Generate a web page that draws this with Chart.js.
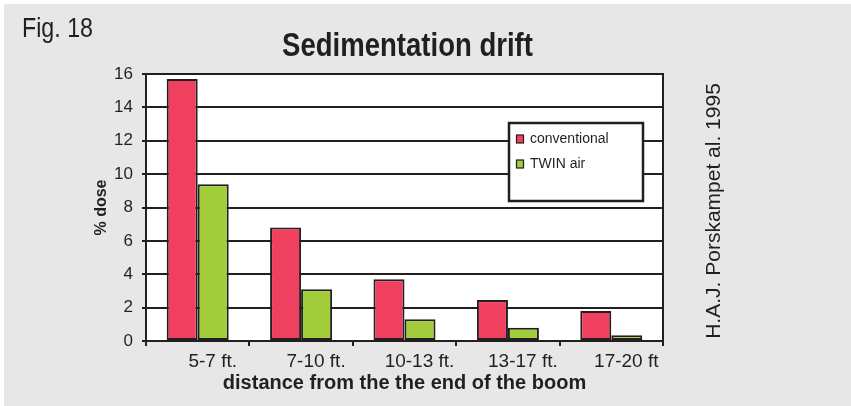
<!DOCTYPE html>
<html lang="en">
<head>
  <meta charset="UTF-8">
  <title>Sedimentation drift</title>
  <style>
    body {
      margin: 0;
      background-color: #fff;
      overflow: hidden;
    }
    canvas {
      display: block;
    }
  </style>
  <script src="https://cdn.jsdelivr.net/npm/chart.js"></script>
</head>
<body>
<canvas id="driftChart" width="851" height="406"></canvas>

<script>
  // Datos
  const categories = ['5-7 ft.', '7-10 ft.', '10-13 ft.', '13-17 ft.', '17-20 ft'];
  const conventional = [15.7, 6.8, 3.7, 2.45, 1.8];
  const twinAir = [9.4, 3.1, 1.3, 0.8, 0.35];
  const yTicks = [0, 2, 4, 6, 8, 10, 12, 14, 16];

  const ink = '#231f20';
  const sans = "'Liberation Sans', Arial, sans-serif";

  // texto estrecho (la fuente condensada no está instalada)
  function narrowText(ctx, text, x, y, font, sx, align) {
    ctx.save();
    ctx.font = font;
    ctx.textAlign = align;
    ctx.textBaseline = 'alphabetic';
    ctx.translate(x, y);
    ctx.scale(sx, 1);
    ctx.fillText(text, 0, 0);
    ctx.restore();
  }

  // Fondo gris, área blanca, marco, leyenda y textos sueltos
  const decor = {
    id: 'decor',
    beforeDraw(chart) {
      const ctx = chart.ctx;
      const a = chart.chartArea;
      ctx.save();
      ctx.fillStyle = '#fff';
      ctx.fillRect(0, 0, chart.width, chart.height);
      ctx.fillStyle = '#e6e7e6';
      ctx.fillRect(4, 4, chart.width - 4, chart.height - 4);
      ctx.fillStyle = '#fff';
      ctx.fillRect(a.left, a.top, a.right - a.left, a.bottom - a.top);
      ctx.restore();
    },
    afterDraw(chart) {
      const ctx = chart.ctx;
      const a = chart.chartArea;
      ctx.save();
      ctx.strokeStyle = ink;
      ctx.lineWidth = 2;
      ctx.strokeRect(a.left, a.top, a.right - a.left, a.bottom - a.top);

      // leyenda
      ctx.fillStyle = '#fff';
      ctx.fillRect(509, 123, 134, 78);
      ctx.lineWidth = 2.5;
      ctx.strokeRect(509, 123, 134, 78);
      ctx.font = '14px ' + sans;
      ctx.textBaseline = 'middle';
      ctx.textAlign = 'left';
      chart.data.datasets.forEach((ds, i) => {
        const y = 139 + i * 25;
        ctx.fillStyle = ds.backgroundColor;
        ctx.fillRect(516.5, y - 4, 7, 8);
        ctx.lineWidth = 1.2;
        ctx.strokeStyle = ink;
        ctx.strokeRect(516.5, y - 4, 7, 8);
        ctx.fillStyle = ink;
        ctx.fillText(ds.label, 530, y);
      });

      // títulos
      ctx.fillStyle = ink;
      narrowText(ctx, 'Sedimentation drift', (a.left + a.right) / 2 + 3, 56,
        'bold 34px ' + sans, 0.81, 'center');
      narrowText(ctx, 'Fig. 18', 22, 37, '28px ' + sans, 0.83, 'left');

      ctx.font = '21px ' + sans;
      ctx.textAlign = 'center';
      ctx.textBaseline = 'middle';
      ctx.translate(714, 211);
      ctx.rotate(-Math.PI / 2);
      ctx.fillText('H.A.J. Porskampet al. 1995', 0, 0);
      ctx.restore();
    }
  };

  const config = {
    type: 'bar',
    data: {
      labels: categories,
      datasets: [
        {
          label: 'conventional',
          data: conventional,
          backgroundColor: '#ef4060',
          borderColor: ink,
          borderWidth: 2,
          borderSkipped: false
        },
        {
          label: 'TWIN air',
          data: twinAir,
          backgroundColor: '#a3cc3a',
          borderColor: ink,
          borderWidth: 2,
          borderSkipped: false
        }
      ]
    },
    options: {
      responsive: false,
      animation: false,
      layout: {
        padding: { top: 74, left: 92, right: 188, bottom: 10.6 }
      },
      datasets: {
        bar: { categoryPercentage: 0.6, barPercentage: 1.0 }
      },
      plugins: {
        legend: { display: false },
        tooltip: { enabled: false },
        title: { display: false }
      },
      scales: {
        x: {
          afterFit: s => { s.height = 54.4; },
          grid: {
            drawOnChartArea: false,
            drawTicks: true,
            tickLength: 5,
            color: ink,
            lineWidth: 2
          },
          border: { color: ink, width: 2 },
          ticks: {
            color: ink,
            font: { family: sans, size: 19 },
            padding: 4,
            labelOffset: 15,
            maxRotation: 0
          },
          title: {
            display: true,
            text: 'distance from the the end of the boom',
            color: ink,
            font: { family: sans, size: 20, weight: 'bold', lineHeight: 1.2 },
            padding: 0
          }
        },
        y: {
          min: 0,
          max: 16,
          afterFit: s => { s.width = 54; },
          afterBuildTicks: s => { s.ticks = yTicks.map(v => ({ value: v })); },
          grid: {
            color: ink,
            lineWidth: 2,
            tickLength: 4
          },
          border: { color: ink, width: 2 },
          ticks: {
            color: ink,
            font: { family: sans, size: 17 },
            padding: 9
          },
          title: {
            display: true,
            text: '% dose',
            color: ink,
            font: { family: sans, size: 16, weight: 'bold', lineHeight: 1.2 },
            padding: 0
          }
        }
      }
    },
    plugins: [decor]
  };

  new Chart(document.getElementById('driftChart').getContext('2d'), config);
</script>
</body>
</html>
